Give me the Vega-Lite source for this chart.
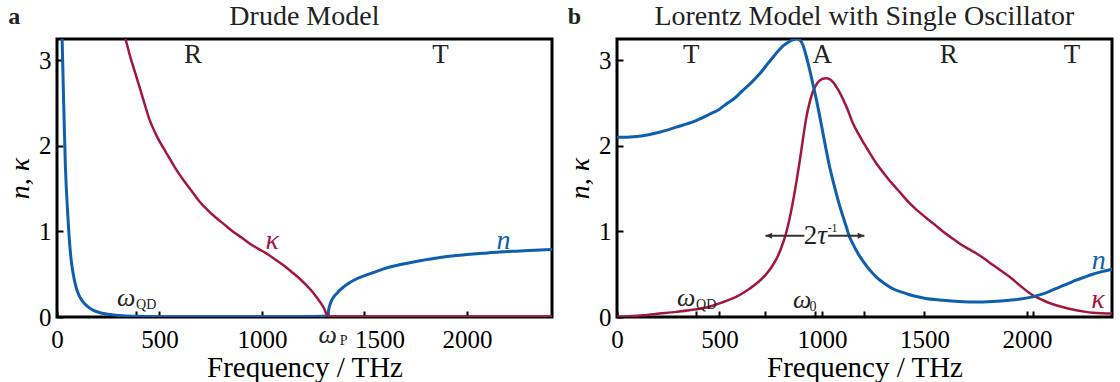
{
  "$schema": "https://vega.github.io/schema/vega-lite/v6.json",
  "background": "white",
  "padding": {"left": 5, "top": 1, "right": 2, "bottom": 0},
  "spacing": 65,
  "bounds": "flush",
  "config": {
    "font": "Liberation Serif",
    "view": {"stroke": "black", "strokeWidth": 3},
    "axis": {"grid": false, "domain": false, "tickColor": "black", "tickWidth": 2, "tickSize": -6, "labelFontSize": 25, "labelColor": "black", "titleFontSize": 29, "titleFontWeight": "normal", "titleColor": "black", "labelFont": "Liberation Serif", "titleFont": "Liberation Serif"}
  },
  "hconcat": [
    {
      "width": 495,
      "height": 278,
      "encoding": {
        "x": {"field": "x", "type": "quantitative", "scale": {"domain": [0, 2415], "nice": false, "zero": false},
              "axis": {"values": [0, 386, 500, 1000, 1321, 1500, 2000], "format": "d", "labelExpr": "datum.value % 500 === 0 ? datum.label : ''", "title": "Frequency / THz", "labelFont": "Liberation Serif", "titleFont": "Liberation Serif", "labelFontSize": 25, "titleFontSize": 29, "labelPadding": 16, "titlePadding": 1, "labelFlush": false,
                       "labelOffset": {"condition": {"test": "datum.value === 1500", "value": 15}, "value": 0}}},
        "y": {"field": "y", "type": "quantitative", "scale": {"domain": [0, 3.25], "nice": false, "zero": false},
              "axis": {"values": [0, 1, 2, 3], "format": "d", "title": "n, κ", "labelFont": "Liberation Serif", "titleFont": "Liberation Serif", "labelFontSize": 25, "titleFontSize": 28, "titleFontStyle": "italic", "labelPadding": 12, "titlePadding": 4}}
      },
      "layer": [
        {
          "data": {"values": [{"x": 1321}]},
          "mark": {"type": "rule", "color": "#222", "strokeDash": [6, 5], "strokeWidth": 1.5},
          "encoding": {"x": {"field": "x", "type": "quantitative"}, "y": {"datum": 0}, "y2": {"datum": 3.25}}
        },
        {
          "data": {"values": [
            {"x": 22, "y": 3.45}, {"x": 25, "y": 3.25}, {"x": 32, "y": 2.55}, {"x": 41, "y": 1.76}, {"x": 53, "y": 1.18},
            {"x": 62, "y": 0.85}, {"x": 69, "y": 0.67}, {"x": 80, "y": 0.49}, {"x": 93, "y": 0.35}, {"x": 108, "y": 0.25},
            {"x": 126, "y": 0.18}, {"x": 150, "y": 0.12}, {"x": 175, "y": 0.08}, {"x": 210, "y": 0.05}, {"x": 256, "y": 0.03},
            {"x": 320, "y": 0.015}, {"x": 386, "y": 0.008}, {"x": 500, "y": 0.004}, {"x": 700, "y": 0.002}, {"x": 1000, "y": 0.002},
            {"x": 1200, "y": 0.003}, {"x": 1300, "y": 0.008}, {"x": 1321, "y": 0.02}, {"x": 1325, "y": 0.08}, {"x": 1330, "y": 0.13},
            {"x": 1337, "y": 0.18}, {"x": 1350, "y": 0.235}, {"x": 1365, "y": 0.275}, {"x": 1378, "y": 0.31}, {"x": 1400, "y": 0.355},
            {"x": 1427, "y": 0.40}, {"x": 1465, "y": 0.45}, {"x": 1508, "y": 0.49}, {"x": 1550, "y": 0.525}, {"x": 1590, "y": 0.56},
            {"x": 1670, "y": 0.61}, {"x": 1752, "y": 0.65}, {"x": 1830, "y": 0.68}, {"x": 1915, "y": 0.71}, {"x": 2000, "y": 0.73},
            {"x": 2078, "y": 0.745}, {"x": 2160, "y": 0.76}, {"x": 2240, "y": 0.77}, {"x": 2330, "y": 0.78}, {"x": 2415, "y": 0.79}
          ]},
          "mark": {"type": "line", "color": "#0e5fae", "strokeWidth": 3, "clip": true, "interpolate": "monotone"}
        },
        {
          "data": {"values": [
            {"x": 320, "y": 3.36}, {"x": 334, "y": 3.25}, {"x": 360, "y": 3.02}, {"x": 386, "y": 2.82}, {"x": 420, "y": 2.55},
            {"x": 451, "y": 2.31}, {"x": 490, "y": 2.10}, {"x": 533, "y": 1.92}, {"x": 575, "y": 1.75}, {"x": 614, "y": 1.61},
            {"x": 655, "y": 1.48}, {"x": 695, "y": 1.35}, {"x": 735, "y": 1.25}, {"x": 776, "y": 1.16}, {"x": 817, "y": 1.08},
            {"x": 858, "y": 1.0}, {"x": 900, "y": 0.93}, {"x": 939, "y": 0.86}, {"x": 980, "y": 0.80}, {"x": 1020, "y": 0.745},
            {"x": 1060, "y": 0.68}, {"x": 1102, "y": 0.61}, {"x": 1143, "y": 0.53}, {"x": 1183, "y": 0.45}, {"x": 1215, "y": 0.375},
            {"x": 1248, "y": 0.29}, {"x": 1270, "y": 0.22}, {"x": 1289, "y": 0.157}, {"x": 1305, "y": 0.09}, {"x": 1313, "y": 0.04},
            {"x": 1321, "y": 0.005}, {"x": 1400, "y": 0.005}, {"x": 2415, "y": 0.005}
          ]},
          "mark": {"type": "line", "color": "#a3173f", "strokeWidth": 2.5, "clip": true, "interpolate": "monotone"}
        },
        {
          "data": {"values": [{"t": "R", "x": 663, "y": 3.06}, {"t": "T", "x": 1871, "y": 3.06}]},
          "mark": {"type": "text", "font": "Liberation Serif", "fontSize": 27, "color": "#222", "baseline": "middle"},
          "encoding": {"text": {"field": "t"}}
        },
        {
          "data": {"values": [{"t": "Drude Model", "x": 1207, "y": 3.51}]},
          "mark": {"type": "text", "font": "Liberation Serif", "fontSize": 28, "color": "#222", "baseline": "middle"},
          "encoding": {"text": {"field": "t"}}
        },
        {
          "data": {"values": [{"t": "κ", "x": 1050, "y": 0.89}]},
          "mark": {"type": "text", "font": "Liberation Serif", "fontSize": 28, "fontStyle": "italic", "color": "#a3173f", "baseline": "middle"},
          "encoding": {"text": {"field": "t"}}
        },
        {
          "data": {"values": [{"t": "n", "x": 2178, "y": 0.89}]},
          "mark": {"type": "text", "font": "Liberation Serif", "fontSize": 28, "fontStyle": "italic", "color": "#0e5fae", "baseline": "middle"},
          "encoding": {"text": {"field": "t"}}
        },
        {
          "data": {"values": [{"t": "ω", "x": 337, "y": 0.22}, {"t": "ω", "x": 1321, "y": -0.21}]},
          "mark": {"type": "text", "font": "Liberation Serif", "fontSize": 26, "fontStyle": "italic", "color": "#222", "baseline": "middle"},
          "encoding": {"text": {"field": "t"}}
        },
        {
          "data": {"values": [{"t": "QD", "x": 435, "y": 0.14}, {"t": "P", "x": 1398, "y": -0.28}]},
          "mark": {"type": "text", "font": "Liberation Serif", "fontSize": 14, "color": "#222", "baseline": "middle"},
          "encoding": {"text": {"field": "t"}}
        },
        {
          "data": {"values": [{"t": "a", "x": -208, "y": 3.51}]},
          "mark": {"type": "text", "font": "Liberation Serif", "fontSize": 24, "fontWeight": "bold", "color": "#222", "baseline": "middle"},
          "encoding": {"text": {"field": "t"}}
        }
      ]
    },
    {
      "width": 495,
      "height": 278,
      "encoding": {
        "x": {"field": "x", "type": "quantitative", "scale": {"domain": [0, 2415], "nice": false, "zero": false},
              "axis": {"values": [0, 386, 500, 724, 964, 1000, 1207, 1500, 2000, 2028], "format": "d", "labelExpr": "datum.value % 500 === 0 ? datum.label : ''", "title": "Frequency / THz", "labelFont": "Liberation Serif", "titleFont": "Liberation Serif", "labelFontSize": 25, "titleFontSize": 29, "labelPadding": 16, "titlePadding": 1, "labelFlush": false}},
        "y": {"field": "y", "type": "quantitative", "scale": {"domain": [0, 3.25], "nice": false, "zero": false},
              "axis": {"values": [0, 1, 2, 3], "format": "d", "title": "n, κ", "labelFont": "Liberation Serif", "titleFont": "Liberation Serif", "labelFontSize": 25, "titleFontSize": 28, "titleFontStyle": "italic", "labelPadding": 12, "titlePadding": 4}}
      },
      "layer": [
        {
          "data": {"values": [{"x": 724}, {"x": 1207}, {"x": 2028}]},
          "mark": {"type": "rule", "color": "#555", "strokeDash": [6, 5], "strokeWidth": 1.5},
          "encoding": {"x": {"field": "x", "type": "quantitative"}, "y": {"datum": 0}, "y2": {"datum": 3.25}}
        },
        {
          "data": {"values": [
            {"x": 0, "y": 0.0}, {"x": 126, "y": 0.02}, {"x": 207, "y": 0.04}, {"x": 289, "y": 0.06}, {"x": 386, "y": 0.09},
            {"x": 450, "y": 0.12}, {"x": 500, "y": 0.16}, {"x": 540, "y": 0.195}, {"x": 581, "y": 0.235}, {"x": 615, "y": 0.28},
            {"x": 646, "y": 0.33}, {"x": 685, "y": 0.40}, {"x": 724, "y": 0.49}, {"x": 750, "y": 0.57}, {"x": 776, "y": 0.67},
            {"x": 800, "y": 0.80}, {"x": 825, "y": 0.98}, {"x": 841, "y": 1.14}, {"x": 857, "y": 1.33}, {"x": 874, "y": 1.56},
            {"x": 890, "y": 1.80}, {"x": 906, "y": 2.06}, {"x": 922, "y": 2.31}, {"x": 939, "y": 2.50}, {"x": 955, "y": 2.63},
            {"x": 971, "y": 2.71}, {"x": 987, "y": 2.76}, {"x": 1004, "y": 2.785}, {"x": 1020, "y": 2.79}, {"x": 1037, "y": 2.78},
            {"x": 1053, "y": 2.75}, {"x": 1078, "y": 2.66}, {"x": 1102, "y": 2.55}, {"x": 1126, "y": 2.42}, {"x": 1150, "y": 2.27},
            {"x": 1178, "y": 2.14}, {"x": 1207, "y": 2.02}, {"x": 1235, "y": 1.91}, {"x": 1264, "y": 1.80}, {"x": 1305, "y": 1.67},
            {"x": 1346, "y": 1.55}, {"x": 1387, "y": 1.44}, {"x": 1427, "y": 1.33}, {"x": 1468, "y": 1.24}, {"x": 1508, "y": 1.16},
            {"x": 1550, "y": 1.08}, {"x": 1590, "y": 1.0}, {"x": 1630, "y": 0.93}, {"x": 1671, "y": 0.86}, {"x": 1712, "y": 0.80},
            {"x": 1752, "y": 0.745}, {"x": 1793, "y": 0.68}, {"x": 1833, "y": 0.61}, {"x": 1874, "y": 0.54}, {"x": 1915, "y": 0.47},
            {"x": 1970, "y": 0.36}, {"x": 2028, "y": 0.255}, {"x": 2078, "y": 0.196}, {"x": 2120, "y": 0.155}, {"x": 2159, "y": 0.125},
            {"x": 2200, "y": 0.10}, {"x": 2240, "y": 0.08}, {"x": 2280, "y": 0.063}, {"x": 2321, "y": 0.05}, {"x": 2365, "y": 0.043},
            {"x": 2415, "y": 0.04}
          ]},
          "mark": {"type": "line", "color": "#a3173f", "strokeWidth": 2.5, "clip": true, "interpolate": "monotone"}
        },
        {
          "data": {"values": [
            {"x": 0, "y": 2.10}, {"x": 63, "y": 2.105}, {"x": 126, "y": 2.12}, {"x": 207, "y": 2.16}, {"x": 289, "y": 2.22},
            {"x": 370, "y": 2.28}, {"x": 451, "y": 2.37}, {"x": 500, "y": 2.43}, {"x": 533, "y": 2.49}, {"x": 575, "y": 2.56},
            {"x": 614, "y": 2.65}, {"x": 655, "y": 2.74}, {"x": 695, "y": 2.84}, {"x": 735, "y": 2.96}, {"x": 776, "y": 3.08},
            {"x": 810, "y": 3.17}, {"x": 841, "y": 3.22}, {"x": 865, "y": 3.25}, {"x": 882, "y": 3.26}, {"x": 895, "y": 3.23},
            {"x": 907, "y": 3.18}, {"x": 922, "y": 3.06}, {"x": 939, "y": 2.90}, {"x": 955, "y": 2.73}, {"x": 972, "y": 2.55},
            {"x": 988, "y": 2.36}, {"x": 1004, "y": 2.16}, {"x": 1020, "y": 1.96}, {"x": 1037, "y": 1.76}, {"x": 1053, "y": 1.60},
            {"x": 1069, "y": 1.45}, {"x": 1085, "y": 1.31}, {"x": 1102, "y": 1.18}, {"x": 1118, "y": 1.06}, {"x": 1134, "y": 0.94},
            {"x": 1150, "y": 0.86}, {"x": 1167, "y": 0.78}, {"x": 1187, "y": 0.70}, {"x": 1207, "y": 0.63}, {"x": 1235, "y": 0.545},
            {"x": 1264, "y": 0.47}, {"x": 1300, "y": 0.40}, {"x": 1346, "y": 0.33}, {"x": 1390, "y": 0.29}, {"x": 1427, "y": 0.26},
            {"x": 1500, "y": 0.22}, {"x": 1590, "y": 0.196}, {"x": 1670, "y": 0.182}, {"x": 1752, "y": 0.176}, {"x": 1833, "y": 0.182},
            {"x": 1915, "y": 0.196}, {"x": 1970, "y": 0.21}, {"x": 2028, "y": 0.235}, {"x": 2078, "y": 0.27}, {"x": 2120, "y": 0.31},
            {"x": 2159, "y": 0.35}, {"x": 2200, "y": 0.39}, {"x": 2240, "y": 0.43}, {"x": 2280, "y": 0.465}, {"x": 2321, "y": 0.50},
            {"x": 2365, "y": 0.53}, {"x": 2415, "y": 0.56}
          ]},
          "mark": {"type": "line", "color": "#0e5fae", "strokeWidth": 3, "clip": true, "interpolate": "monotone"}
        },
        {
          "data": {"values": [{"x": 724, "x2": 914, "y": 0.95}, {"x": 1030, "x2": 1207, "y": 0.95}]},
          "mark": {"type": "rule", "color": "#333", "strokeWidth": 1.8},
          "encoding": {"x2": {"field": "x2"}}
        },
        {
          "data": {"values": [{"x": 724, "y": 0.95}]},
          "mark": {"type": "point", "shape": "M0,0L1.6,-0.7L1.6,0.7Z", "filled": true, "color": "#333", "opacity": 1, "size": 70}
        },
        {
          "data": {"values": [{"x": 1207, "y": 0.95}]},
          "mark": {"type": "point", "shape": "M0,0L-1.6,-0.7L-1.6,0.7Z", "filled": true, "color": "#333", "opacity": 1, "size": 70}
        },
        {
          "data": {"values": [{"t": "2", "x": 944, "y": 0.95}]},
          "mark": {"type": "text", "font": "Liberation Serif", "fontSize": 27, "color": "#222", "baseline": "middle"},
          "encoding": {"text": {"field": "t"}}
        },
        {
          "data": {"values": [{"t": "τ", "x": 1001, "y": 0.95}]},
          "mark": {"type": "text", "font": "Liberation Serif", "fontSize": 27, "fontStyle": "italic", "color": "#222", "baseline": "middle"},
          "encoding": {"text": {"field": "t"}}
        },
        {
          "data": {"values": [{"t": "-1", "x": 1052, "y": 1.04}]},
          "mark": {"type": "text", "font": "Liberation Serif", "fontSize": 12, "color": "#222", "baseline": "middle"},
          "encoding": {"text": {"field": "t"}}
        },
        {
          "data": {"values": [{"t": "T", "x": 362, "y": 3.06}, {"t": "A", "x": 1001, "y": 3.06}, {"t": "R", "x": 1619, "y": 3.06}, {"t": "T", "x": 2220, "y": 3.06}]},
          "mark": {"type": "text", "font": "Liberation Serif", "fontSize": 27, "color": "#222", "baseline": "middle"},
          "encoding": {"text": {"field": "t"}}
        },
        {
          "data": {"values": [{"t": "Lorentz Model with Single Oscillator", "x": 1207, "y": 3.51}]},
          "mark": {"type": "text", "font": "Liberation Serif", "fontSize": 28, "color": "#222", "baseline": "middle"},
          "encoding": {"text": {"field": "t"}}
        },
        {
          "data": {"values": [{"t": "κ", "x": 2346, "y": 0.2}]},
          "mark": {"type": "text", "font": "Liberation Serif", "fontSize": 28, "fontStyle": "italic", "color": "#a3173f", "baseline": "middle"},
          "encoding": {"text": {"field": "t"}}
        },
        {
          "data": {"values": [{"t": "n", "x": 2350, "y": 0.65}]},
          "mark": {"type": "text", "font": "Liberation Serif", "fontSize": 28, "fontStyle": "italic", "color": "#0e5fae", "baseline": "middle"},
          "encoding": {"text": {"field": "t"}}
        },
        {
          "data": {"values": [{"t": "ω", "x": 337, "y": 0.22}, {"t": "ω", "x": 904, "y": 0.2}]},
          "mark": {"type": "text", "font": "Liberation Serif", "fontSize": 26, "fontStyle": "italic", "color": "#222", "baseline": "middle"},
          "encoding": {"text": {"field": "t"}}
        },
        {
          "data": {"values": [{"t": "QD", "x": 435, "y": 0.14}, {"t": "0", "x": 956, "y": 0.12}]},
          "mark": {"type": "text", "font": "Liberation Serif", "fontSize": 14, "color": "#222", "baseline": "middle"},
          "encoding": {"text": {"field": "t"}}
        },
        {
          "data": {"values": [{"t": "b", "x": -208, "y": 3.51}]},
          "mark": {"type": "text", "font": "Liberation Serif", "fontSize": 24, "fontWeight": "bold", "color": "#222", "baseline": "middle"},
          "encoding": {"text": {"field": "t"}}
        }
      ]
    }
  ]
}
